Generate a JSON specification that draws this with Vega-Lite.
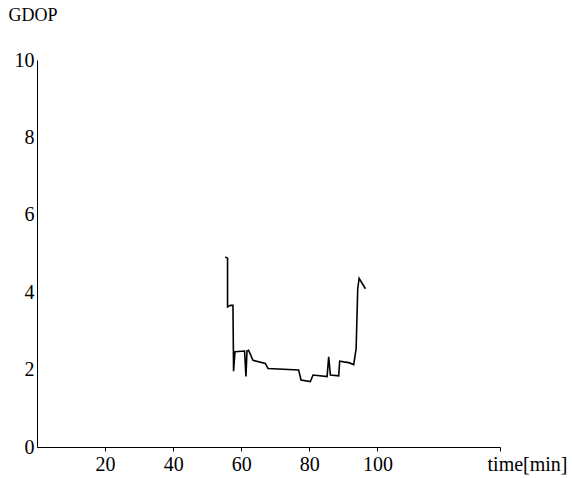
{
  "$schema": "https://vega.github.io/schema/vega-lite/v6.json",
  "width": 463,
  "height": 387,
  "autosize": "none",
  "padding": {"left": 37, "top": 60, "right": 72, "bottom": 31},
  "background": "white",
  "config": {
    "view": {"stroke": null},
    "font": "Liberation Serif",
    "axis": {"grid": false, "domainColor": "black", "tickColor": "black", "labelColor": "black", "titleColor": "black", "labelFont": "Liberation Serif", "titleFont": "Liberation Serif", "titleFontWeight": "normal", "labelFontSize": 20, "titleFontSize": 20}
  },
  "data": {
    "values": [
      {"t": 55.3, "g": 4.91},
      {"t": 55.97, "g": 4.88},
      {"t": 55.97, "g": 3.62},
      {"t": 56.8, "g": 3.66},
      {"t": 57.56, "g": 3.66},
      {"t": 57.74, "g": 1.96},
      {"t": 58.15, "g": 2.46},
      {"t": 60.97, "g": 2.48},
      {"t": 61.38, "g": 1.82},
      {"t": 61.68, "g": 2.48},
      {"t": 62.15, "g": 2.5},
      {"t": 63.44, "g": 2.24},
      {"t": 67.06, "g": 2.16},
      {"t": 67.85, "g": 2.03},
      {"t": 76.85, "g": 1.99},
      {"t": 77.56, "g": 1.73},
      {"t": 80.29, "g": 1.69},
      {"t": 81.09, "g": 1.86},
      {"t": 85.21, "g": 1.82},
      {"t": 85.68, "g": 2.33},
      {"t": 86.18, "g": 1.86},
      {"t": 88.62, "g": 1.84},
      {"t": 88.91, "g": 2.22},
      {"t": 90.09, "g": 2.2},
      {"t": 91.56, "g": 2.18},
      {"t": 93.03, "g": 2.13},
      {"t": 93.74, "g": 2.54},
      {"t": 94.21, "g": 4.09},
      {"t": 94.62, "g": 4.36},
      {"t": 96.47, "g": 4.09}
    ]
  },
  "mark": {"type": "line", "color": "black", "strokeWidth": 1.6, "interpolate": "linear"},
  "encoding": {
    "x": {
      "field": "t", "type": "quantitative",
      "scale": {"domain": [0, 136], "nice": false, "zero": false},
      "axis": {
        "values": [20, 40, 60, 80, 100, 136],
        "labelExpr": "datum.value > 120 ? '' : datum.label",
        "tickSize": 4, "labelPadding": 3, "labelDx": 9,
        "title": "time[min]", "titleFont": "Liberation Serif", "titleFontWeight": "normal",
        "titleAngle": 0, "titleX": 490, "titleY": 17, "titleBaseline": "middle", "titleAlign": "center"
      }
    },
    "y": {
      "field": "g", "type": "quantitative",
      "scale": {"domain": [0, 10], "nice": false},
      "axis": {
        "values": [0, 2, 4, 6, 8, 10],
        "ticks": false, "labelPadding": 3, "labelDy": 6,
        "title": "GDOP", "titleFont": "Liberation Serif", "titleFontWeight": "normal", "titleFontSize": 18,
        "titleAngle": 0, "titleX": -29, "titleY": -45, "titleAlign": "left", "titleBaseline": "middle"
      }
    }
  }
}
